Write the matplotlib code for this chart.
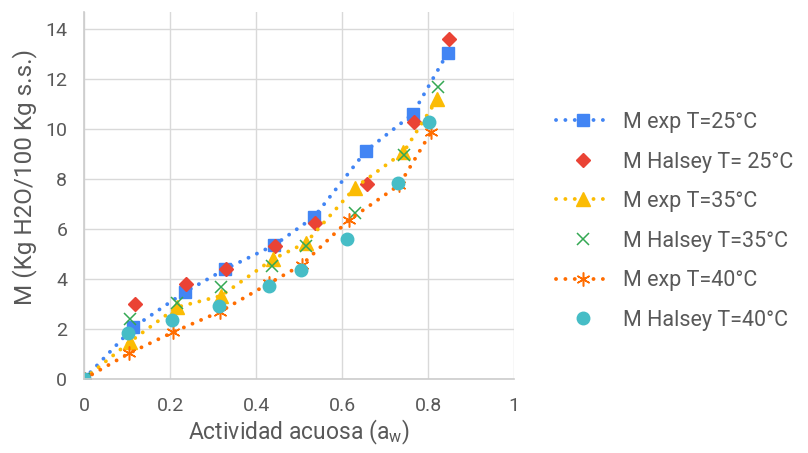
import matplotlib
matplotlib.use("Agg")
import matplotlib.pyplot as plt

plt.rcParams['font.family'] = ['Roboto', 'DejaVu Sans']
plt.rcParams['mathtext.fontset'] = 'custom'
plt.rcParams['mathtext.rm'] = 'Roboto'
plt.rcParams['mathtext.it'] = 'Roboto'

# water activity (x) and moisture (y) per series
aw_25 = [0, 0.115, 0.235, 0.328, 0.443, 0.535, 0.656, 0.764, 0.846]
m_exp_25 = [0, 2.07, 3.48, 4.39, 5.36, 6.48, 9.13, 10.59, 13.05]
aw_h25 = [0, 0.118, 0.237, 0.330, 0.445, 0.537, 0.657, 0.767, 0.848]
m_hal_25 = [0, 2.99, 3.79, 4.41, 5.32, 6.23, 7.81, 10.29, 13.59]

aw_35 = [0, 0.107, 0.216, 0.319, 0.439, 0.516, 0.630, 0.743, 0.822]
m_exp_35 = [0, 1.49, 2.87, 3.33, 4.79, 5.45, 7.65, 9.07, 11.21]
aw_h35 = [0, 0.108, 0.216, 0.318, 0.438, 0.516, 0.631, 0.744, 0.823]
m_hal_35 = [0, 2.40, 3.03, 3.67, 4.53, 5.32, 6.65, 8.96, 11.67]

aw_40 = [0, 0.105, 0.208, 0.316, 0.431, 0.506, 0.616, 0.733, 0.807]
m_exp_40 = [0, 1.03, 1.88, 2.69, 3.83, 4.56, 6.36, 7.76, 9.87]
aw_h40 = [0, 0.103, 0.205, 0.313, 0.431, 0.504, 0.612, 0.731, 0.803]
m_hal_40 = [0, 1.83, 2.36, 2.93, 3.73, 4.36, 5.59, 7.85, 10.27]

labels = ['M exp T=25°C', 'M Halsey T= 25°C', 'M exp T=35°C',
          'M Halsey T=35°C', 'M exp T=40°C', 'M Halsey T=40°C']

grey = '#595959'
dots = (0, (0.01, 2.4))

fig = plt.figure(figsize=(8.08, 4.53), dpi=100)
ax = fig.add_axes([84 / 808, 1 - 379 / 453, 430 / 808, 367 / 453])

ax.plot(aw_25, m_exp_25, color='#4285F4', lw=2.8, linestyle=dots,
        dash_capstyle='round', marker='s', ms=8.5, label=labels[0])
ax.plot(aw_h25, m_hal_25, color='#EA4335', lw=0, marker='D', ms=7,
        label=labels[1])
ax.plot(aw_35, m_exp_35, color='#FBBC04', lw=2.8, linestyle=dots,
        dash_capstyle='round', marker='^', ms=9.5, label=labels[2])
ax.plot(aw_h35, m_hal_35, color='#34A853', lw=0, marker='x', ms=9,
        mew=1.1, label=labels[3])
ax.plot(aw_40, m_exp_40, color='#FF6D01', lw=2.8, linestyle=dots,
        dash_capstyle='round', marker=(6, 2, 0), ms=10, mew=1.1,
        label=labels[4])
ax.plot(aw_h40, m_hal_40, color='#46BDC6', lw=0, marker='o', ms=9,
        label=labels[5])

ax.set_xlim(0, 1)
ax.set_ylim(0, 14.68)
ax.set_xticks([0, 0.2, 0.4, 0.6, 0.8, 1])
ax.set_xticklabels(['0', '0.2', '0.4', '0.6', '0.8', '1'])
ax.set_yticks(range(0, 15, 2))
ax.grid(True, color='#d9d9d9', lw=1)
ax.set_axisbelow(True)
for side in ['top', 'right']:
    ax.spines[side].set_visible(False)
for side in ['left', 'bottom']:
    ax.spines[side].set_color('#cccccc')
    ax.spines[side].set_linewidth(1.2)
ax.tick_params(length=0, labelsize=14, labelcolor=grey)
ax.tick_params(axis='y', pad=12)
ax.tick_params(axis='x', pad=13)

ax.set_xlabel('Actividad acuosa (a$_\\mathrm{w}$)', fontsize=16.5, color=grey)
ax.set_ylabel('M (Kg H2O/100 Kg s.s.)', fontsize=17.5, color=grey)
ax.xaxis.set_label_coords(0.5, -0.105)
ax.yaxis.set_label_coords(-0.11, 0.55)

ax.legend(loc='upper left', bbox_to_anchor=(556 / 808, 1 - 112 / 453),
          bbox_transform=fig.transFigure, frameon=False, fontsize=15.5,
          labelcolor=grey, handlelength=2.5, handletextpad=0.6,
          labelspacing=0.86, borderpad=0, borderaxespad=0, numpoints=1)

fig.savefig('out.png', dpi=100)
